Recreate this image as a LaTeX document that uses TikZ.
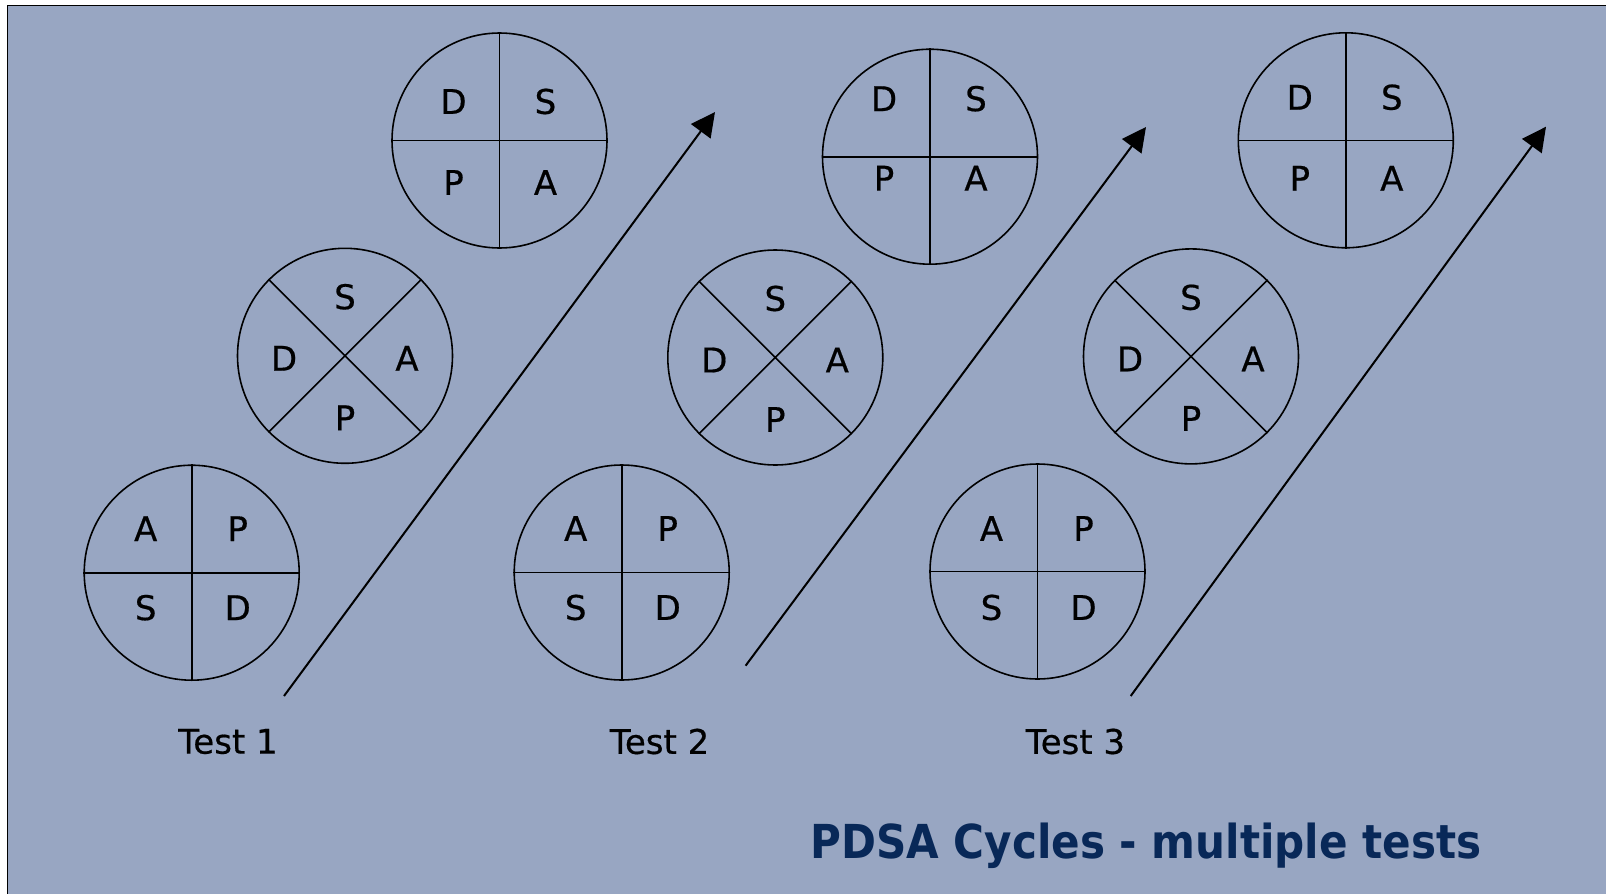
\documentclass[tikz,border=0pt]{standalone}
\usepackage{fontspec}
\setmainfont{DejaVu Sans}
\newfontfamily\wheelfont[FakeBold=0.5]{DejaVu Sans}
\newfontfamily\headfont{DejaVu Sans Condensed}
\usetikzlibrary{arrows.meta}
\definecolor{slate}{RGB}{152,166,194}
\definecolor{navy}{RGB}{8,40,88}
\tikzset{
  wheel/.style={circle, draw=black, line width=1.6pt, minimum size=215pt, inner sep=0pt},
  spoke/.style={line width=1.6pt},
  letter/.style={font=\wheelfont\fontsize{34}{34}\selectfont, inner sep=0pt},
  flow/.style={line width=2pt, -{Triangle[length=24pt,width=24pt]}},
  testlabel/.style={font=\wheelfont\fontsize{34}{34}\selectfont, inner sep=0pt},
  heading/.style={font=\headfont\bfseries\fontsize{46.8}{46.8}\selectfont, text=navy, inner sep=0pt, anchor=base},
  % wheel split into four quadrants by a vertical and a horizontal line;
  % #5 and #6 are the vertical offsets of the upper and lower letter rows
  pics/plus wheel/.style n args={6}{code={
    \node[wheel] (-o) at (0,0) {};
    \draw[spoke] (-o.north) -- (-o.south) (-o.west) -- (-o.east);
    \node[letter] (-nw) at (-46,#5) {#1};
    \node[letter] (-ne) at (46,#5) {#2};
    \node[letter] (-sw) at (-46,#6) {#3};
    \node[letter] (-se) at (46,#6) {#4};
  }},
  % wheel split into four quadrants by two diagonals
  pics/cross wheel/.style n args={4}{code={
    \node[wheel] (-o) at (0,0) {};
    \draw[spoke] (-o.north west) -- (-o.south east) (-o.south west) -- (-o.north east);
    \node[letter] (-n) at (0,-59) {#1};
    \node[letter] (-w) at (-61,2.5) {#2};
    \node[letter] (-e) at (62,2.5) {#3};
    \node[letter] (-s) at (0,62) {#4};
  }},
}
\begin{document}
\begin{tikzpicture}[x=1pt,y=-1pt]
\useasboundingbox (0,0) rectangle (1606,894);
% slide background with its left and top frame
\fill[white] (0,0) rectangle (1606,894);
\fill[slate] (7.3,5.3) rectangle (1606,894);
\draw[line width=1.6pt] (7.3,894) -- (7.3,5.3) -- (1606,5.3);

% test 1
\pic (b1) at (191.7,572.7) {plus wheel={A}{P}{S}{D}{-44}{35}};
\pic (m1) at (345,355.8) {cross wheel={S}{D}{A}{P}};
\pic (t1) at (499.5,140.5) {plus wheel={D}{S}{P}{A}{-39}{42}};
\coordinate (s1) at (284,696);
\coordinate (e1) at (715,112);
\draw[flow] (s1) -- (e1);
\node[testlabel] (test1) at (228,741.5) {Test 1};

% test 2
\pic (b2) at (621.7,572.5) {plus wheel={A}{P}{S}{D}{-44}{35}};
\pic (m2) at (775.3,357.5) {cross wheel={S}{D}{A}{P}};
\pic (t2) at (930,156.7) {plus wheel={D}{S}{P}{A}{-58}{21.5}};
\coordinate (s2) at (745.6,665.7);
\coordinate (e2) at (1146,127);
\draw[flow] (s2) -- (e2);
\node[testlabel] (test2) at (659.6,741.5) {Test 2};

% test 3
\pic (b3) at (1037.5,571.5) {plus wheel={A}{P}{S}{D}{-43}{36}};
\pic (m3) at (1191,356.4) {cross wheel={S}{D}{A}{P}};
\pic (t3) at (1345.8,140.3) {plus wheel={D}{S}{P}{A}{-43}{38}};
\coordinate (s3) at (1130.7,696);
\coordinate (e3) at (1546,126.7);
\draw[flow] (s3) -- (e3);
\node[testlabel] (test3) at (1075.4,741.5) {Test 3};

\node[heading] (title) at (1146,858) {PDSA Cycles - multiple tests};
\end{tikzpicture}
\end{document}
